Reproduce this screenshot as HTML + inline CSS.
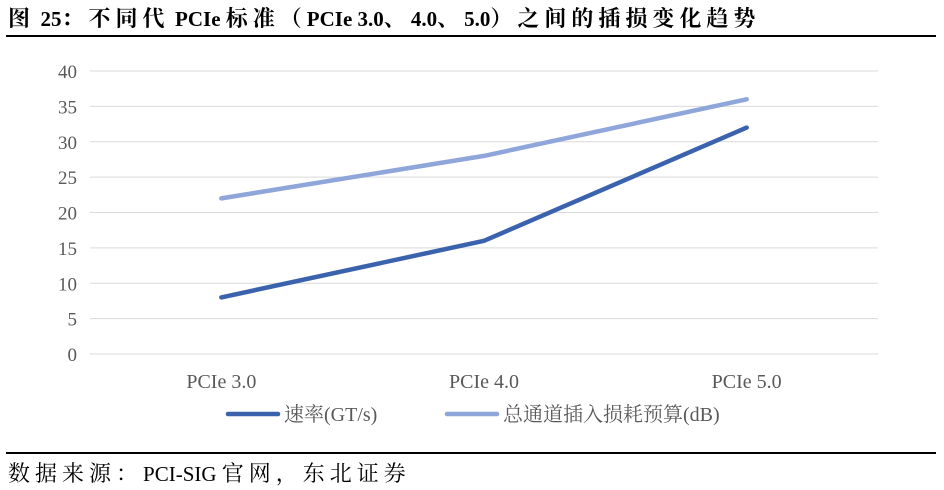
<!DOCTYPE html>
<html><head><meta charset="utf-8"><style>
body{margin:0;background:#fff;width:944px;height:490px;overflow:hidden;font-family:"Liberation Serif","Noto Serif CJK SC",serif;}
#title{position:absolute;left:8px;top:2px;font-size:22px;font-weight:bold;color:#000;white-space:nowrap;}
#title .c,#source .c{letter-spacing:5px;}
#title .l{font-size:21px;}
#topline{position:absolute;left:6px;top:35px;width:930px;height:1.5px;background:#000;}
#botline{position:absolute;left:6px;top:452px;width:930px;height:1.5px;background:#000;}
#source{position:absolute;left:8px;top:457px;font-size:22px;color:#000;white-space:nowrap;}
#source .l{font-size:21px;}
svg{position:absolute;left:0;top:0;}
</style></head><body>
<div id="title"><span class="c">图</span> <span class="l">25</span><span class="c">：不同代</span> <span class="l">PCIe </span><span class="c">标准（</span><span class="l">PCIe 3.0</span><span class="c">、</span><span class="l">4.0</span><span class="c">、</span><span class="l">5.0</span><span class="c">）之间的插损变化趋势</span></div>
<div id="topline"></div>
<svg id="chart" width="944" height="490"></svg>
<div id="botline"></div>
<div id="source"><span class="c">数据来源：</span><span class="l">PCI-SIG </span><span class="c">官网，东北证券</span></div>
<script>
const categories=["PCIe 3.0","PCIe 4.0","PCIe 5.0"];
const speedValues=[8,16,32];
const lossValues=[22,28,36];
const yTicks=[0,5,10,15,20,25,30,35,40];
const seriesNames=["速率(GT/s)","总通道插入损耗预算(dB)"];
const NS="http://www.w3.org/2000/svg";
const svg=document.getElementById('chart');
const x0=90,x1=878,yTop=71,yBot=354;
const xs=i=>x0+(x1-x0)*(i+0.5)/categories.length;
const ys=v=>yBot-(yBot-yTop)*v/40;
function mk(t,a){const e=document.createElementNS(NS,t);for(const k in a)e.setAttribute(k,a[k]);svg.appendChild(e);return e;}
yTicks.forEach(v=>{
 const g=mk('line',{x1:x0,x2:x1,y1:ys(v),y2:ys(v),stroke:'#d9d9d9','stroke-width':1});
 
 
 const t=mk('text',{x:77,y:ys(v)+7,'text-anchor':'end','font-size':19,fill:'#595959','font-family':'Liberation Serif, serif'});
 t.textContent=v;
 
 
});
categories.forEach((c,i)=>{
 const t=mk('text',{x:xs(i),y:388,'text-anchor':'middle','font-size':20,fill:'#595959','font-family':'Liberation Serif, serif'});
 t.textContent=c;
 
 
});
function line(vals,color,name){
 const p=mk('polyline',{points:vals.map((v,i)=>xs(i)+','+ys(v)).join(' '),fill:'none',stroke:color,'stroke-width':4.5,'stroke-linecap':'round','stroke-linejoin':'round'});
 
 
}
line(lossValues,'#8fa6da','loss-line');
line(speedValues,'#3b62ad','speed-line');
const leg=[[228,'#3b62ad'],[447,'#8fa6da']];
leg.forEach((l,i)=>{
 const s=mk('line',{x1:l[0],x2:l[0]+50,y1:414,y2:414,stroke:l[1],'stroke-width':4.5,'stroke-linecap':'round'});
 
 
 const t=mk('text',{x:l[0]+56,y:421,'font-size':20,fill:'#595959','font-family':'Liberation Serif, Noto Serif CJK SC, serif'});
 t.textContent=seriesNames[i];
 
 
});
</script>
</body></html>
